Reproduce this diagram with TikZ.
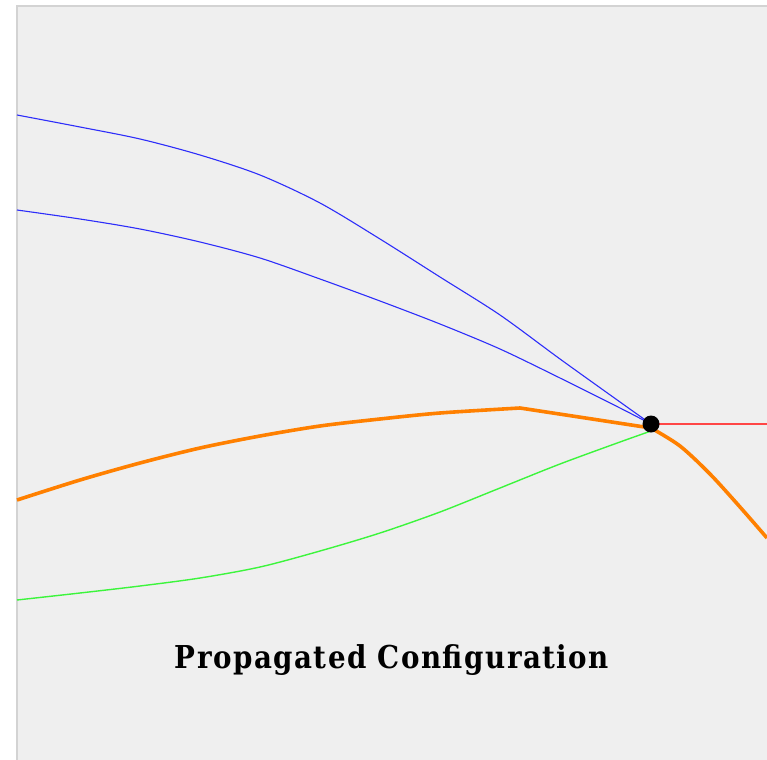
\documentclass[tikz,border=0pt]{standalone}
\usepackage{fontspec}
\newfontfamily\labelfont[FakeStretch=0.88,LetterSpace=4.7]{DejaVu Serif}
\begin{document}
\begin{tikzpicture}[x=1pt,y=-1pt,
  panel/.style={fill=panelbg,draw=panelrim,line width=2pt},
  bluepath/.style={draw=curveblue,line width=1.1pt,line join=round},
  greenpath/.style={draw=curvegreen,line width=1.4pt,line join=round},
  orangepath/.style={draw=curveorange,line width=3.6pt,line join=round},
  redpath/.style={draw=curvered,line width=1.1pt},
  vertexdot/.style={circle,fill=black,inner sep=0pt,minimum size=17pt},
  caption/.style={font=\labelfont\bfseries\fontsize{31.5}{34}\selectfont,inner sep=0pt,anchor=base}]
  \definecolor{panelbg}{RGB}{239,239,239}
  \definecolor{panelrim}{RGB}{211,211,211}
  \definecolor{curveblue}{RGB}{45,45,250}
  \definecolor{curvegreen}{RGB}{60,245,60}
  \definecolor{curveorange}{RGB}{255,128,0}
  \definecolor{curvered}{RGB}{255,70,70}
  \useasboundingbox (0,0) rectangle (767,759);
  \fill[white] (0,0) rectangle (767,759);
  \path[panel] (17,6) rectangle (780,780);

  \coordinate (v) at (651,424);
  \coordinate (east) at (767,424);

  % outgoing ray
  \draw[redpath] (v) -- (east);

  % two upper branches
  \draw[bluepath] plot[smooth] coordinates
    {(17,115) (80,127) (140,139) (200,155) (260,175) (320,203) (380,239)
     (440,277) (500,315) (560,359) (620,402) (v)};
  \draw[bluepath] plot[smooth] coordinates
    {(17,210) (80,219) (140,229) (200,242) (260,258) (320,279) (380,301)
     (440,324) (500,349) (560,378) (620,408) (v)};

  % lower branch
  \draw[greenpath] plot[smooth] coordinates
    {(17,600) (80,593) (140,586) (200,578) (260,567) (320,551) (380,533)
     (440,512) (500,488) (560,464) (620,442) (651,431)};

  % propagated path
  \draw[orangepath] plot[smooth] coordinates
    {(17,500) (80,480) (140,463) (200,448) (260,436) (320,426) (380,419)
     (440,413) (520,408)}
    -- (651,428)
    plot[smooth] coordinates {(651,428) (680,446) (710,474) (740,507) (767,538)};

  \node[vertexdot] (dot) at (v) {};

  \node[caption] (title) at (392,668) {Propagated Configuration};
\end{tikzpicture}
\end{document}
